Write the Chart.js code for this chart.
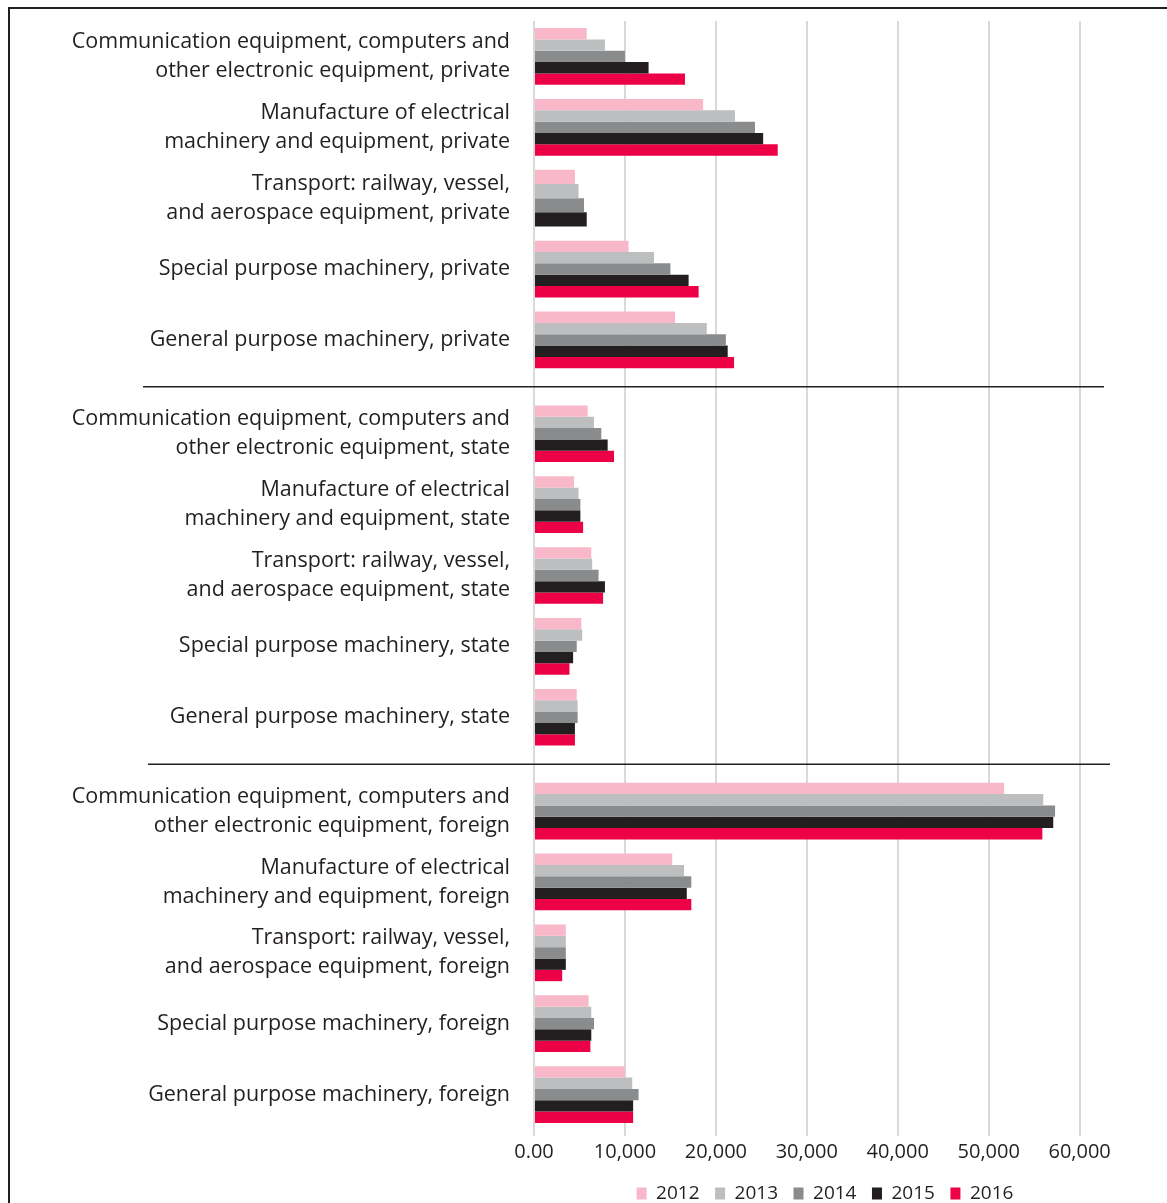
<!DOCTYPE html>
<html>
<head>
<meta charset="utf-8">
<script src="https://cdn.jsdelivr.net/npm/chart.js@4/dist/chart.umd.min.js"></script>
<style>
  html, body { margin: 0; padding: 0; background: #ffffff; overflow: hidden; }
  #frame { position: absolute; left: 8px; top: 7px; width: 1300px; height: 1300px;
           border-left: 2px solid #231F20; border-top: 2px solid #231F20; }
  #wrap { position: absolute; left: 0; top: 0; width: 1167px; height: 1203px; }
</style>
</head>
<body>
<div id="frame"></div>
<div id="wrap"><canvas id="c"></canvas></div>
<script>
// ---- data ----
const categories = [
  ["Communication equipment, computers and", "other electronic equipment, private"],
  ["Manufacture of electrical", "machinery and equipment, private"],
  ["Transport: railway, vessel,", "and aerospace equipment, private"],
  "Special purpose machinery, private",
  "General purpose machinery, private",
  ["Communication equipment, computers and", "other electronic equipment, state"],
  ["Manufacture of electrical", "machinery and equipment, state"],
  ["Transport: railway, vessel,", "and aerospace equipment, state"],
  "Special purpose machinery, state",
  "General purpose machinery, state",
  ["Communication equipment, computers and", "other electronic equipment, foreign"],
  ["Manufacture of electrical", "machinery and equipment, foreign"],
  ["Transport: railway, vessel,", "and aerospace equipment, foreign"],
  "Special purpose machinery, foreign",
  "General purpose machinery, foreign"
];
const seriesNames = ["2012", "2013", "2014", "2015", "2016"];
const values2012 = [5800, 18600, 4500, 10400, 15500,  5900, 4400, 6300, 5200, 4700,  51700, 15200, 3500, 6000, 10000];
const values2013 = [7800, 22100, 4900, 13200, 19000,  6600, 4900, 6400, 5300, 4800,  56000, 16500, 3500, 6300, 10800];
const values2014 = [10000, 24300, 5500, 15000, 21100, 7400, 5100, 7100, 4700, 4800,  57300, 17300, 3500, 6600, 11500];
const values2015 = [12600, 25200, 5800, 17000, 21300, 8100, 5100, 7800, 4300, 4500,  57100, 16800, 3500, 6300, 10900];
const values2016 = [16600, 26800, null, 18100, 22000, 8800, 5400, 7600, 3900, 4500,  55900, 17300, 3100, 6200, 10900];
const xTickValues = [0, 10000, 20000, 30000, 40000, 50000, 60000];
const xTickLabels = ["0.00", "10,000", "20,000", "30,000", "40,000", "50,000", "60,000"];
const xMax = 64000;

const seriesValues = [values2012, values2013, values2014, values2015, values2016];
const seriesColors = ["#F8B8CA", "#BDBEC0", "#8A8B8D", "#231F20", "#EC0046"];

// ---- category scale with gaps between groups of categories ----
class GroupedCategoryScale extends Chart.CategoryScale {
  getPixelForValue(value) {
    if (typeof value !== 'number') value = this.parse(value);
    if (value === null || value === undefined || isNaN(value)) return NaN;
    const n = this.getLabels().length;
    const size = this.options.groupSize || n;
    const gap = this.options.groupGap || 0;
    const groups = Math.ceil(n / size);
    const band = (this._length - gap * (groups - 1)) / n;
    const g = Math.floor(value / size);
    const pos = band * (value + 0.5) + gap * g;
    return this.getPixelForDecimal(pos / this._length);
  }
}
GroupedCategoryScale.id = 'groupedCategory';
GroupedCategoryScale.defaults = Chart.CategoryScale.defaults;
Chart.register(GroupedCategoryScale);

// separator lines between the groups
const separatorPlugin = {
  id: 'separators',
  afterDraw(chart) {
    const y = chart.scales.y;
    const ctx = chart.ctx;
    const spans = [[143, 1104], [148, 1110]];
    [4, 9].forEach((idx, k) => {
      const yy = (y.getPixelForValue(idx) + y.getPixelForValue(idx + 1)) / 2;
      ctx.save();
      ctx.strokeStyle = '#231F20';
      ctx.lineWidth = 1.5;
      ctx.beginPath();
      ctx.moveTo(spans[k][0], yy);
      ctx.lineTo(spans[k][1], yy);
      ctx.stroke();
      ctx.restore();
    });
  }
};

const FONT = "'Open Sans', 'Noto Sans', sans-serif";
Chart.defaults.font.family = FONT;
Chart.defaults.color = '#231F20';

new Chart(document.getElementById('c'), {
  type: 'bar',
  data: {
    labels: categories,
    datasets: seriesNames.map((name, i) => ({
      label: name,
      data: seriesValues[i],
      backgroundColor: seriesColors[i],
      borderWidth: 0,
      categoryPercentage: 0.8,
      barPercentage: 1.0,
      skipNull: true
    }))
  },
  options: {
    indexAxis: 'y',
    responsive: true,
    maintainAspectRatio: false,
    animation: false,
    layout: { padding: { top: 21, right: 51, left: 0, bottom: -10 } },
    scales: {
      y: {
        type: 'groupedCategory',
        groupSize: 5,
        groupGap: 23,
        grid: { display: false, drawTicks: false },
        border: { display: false },
        ticks: {
          autoSkip: false,
          padding: 24,
          color: '#231F20',
          font: { size: 21.5, lineHeight: 1.35 }
        },
        afterFit(scale) { scale.width = 534; scale.paddingTop = 0; scale.paddingBottom = 0; }
      },
      x: {
        min: 0,
        max: xMax,
        grid: { color: '#D9D9D9', lineWidth: 2, tickLength: 6, drawTicks: true },
        border: { display: false },
        afterBuildTicks(scale) { scale.ticks = xTickValues.map(v => ({ value: v })); },
        ticks: {
          maxRotation: 0,
          minRotation: 0,
          padding: 4,
          color: '#231F20',
          font: { size: 20 },
          callback: (v) => xTickLabels[xTickValues.indexOf(v)]
        },
        afterFit(scale) { scale.height = 38.5; }
      }
    },
    plugins: {
      legend: {
        position: 'bottom',
        fullSize: false,
        labels: {
          boxWidth: 10,
          boxHeight: 12,
          padding: 15.5,
          color: '#231F20',
          font: { size: 19 }
        }
      },
      tooltip: { enabled: false }
    }
  },
  plugins: [separatorPlugin]
});
</script>
</body>
</html>
